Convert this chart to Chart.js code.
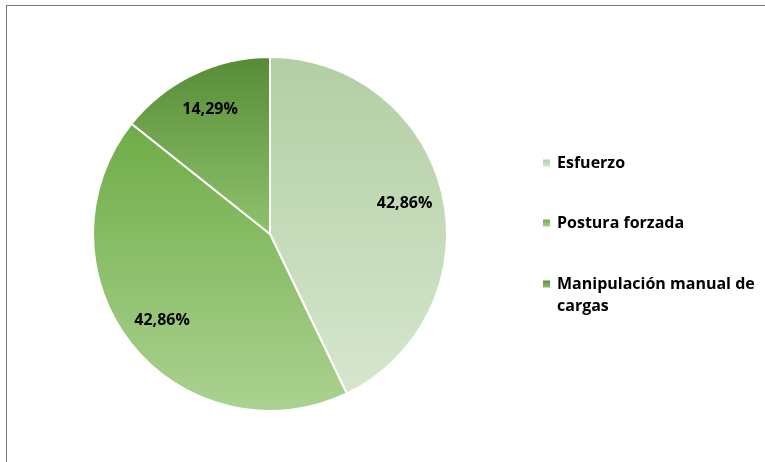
<!DOCTYPE html>
<html>
<head>
<meta charset="utf-8">
<script src="https://cdn.jsdelivr.net/npm/chart.js@4.4.1/dist/chart.umd.min.js"></script>
<style>
  html, body { margin: 0; padding: 0; background: #fff; }
  #wrap { position: relative; width: 765px; height: 462px; overflow: hidden; }
  #frame { position: absolute; left: 6px; top: 5px; width: 800px; height: 500px;
           border-left: 1px solid #7a7a7a; border-top: 1px solid #7a7a7a; }
  canvas { position: absolute; left: 0; top: 0; }
</style>
</head>
<body>
<div id="wrap">
  <div id="frame"></div>
  <canvas id="pieChart" width="765" height="462"></canvas>
</div>
<script>
// data
var categories = ["Esfuerzo", "Postura forzada", "Manipulación manual de cargas"];
var legendLines = [["Esfuerzo"], ["Postura forzada"], ["Manipulación manual de", "cargas"]];
var percentages = [42.86, 42.86, 14.29];
// gradient colours per slice: top, bottom
var topColors = ["#b2cea3", "#6fac46", "#578c36"];
var bottomColors = ["#d6e6ce", "#abd291", "#90c26e"];

var FONT = "bold 16px 'Open Sans', sans-serif";

// vertical extent of an arc, for its gradient
function arcYRange(arc) {
  var ys = [arc.y];
  var a0 = arc.startAngle, a1 = arc.endAngle, r = arc.outerRadius;
  ys.push(arc.y + r * Math.sin(a0), arc.y + r * Math.sin(a1));
  for (var k = -4; k <= 4; k++) {
    var a = Math.PI / 2 + k * Math.PI;
    if (a > a0 && a < a1) ys.push(arc.y + r * Math.sin(a));
  }
  return [Math.min.apply(null, ys), Math.max.apply(null, ys)];
}

// set a vertical gradient on each slice once the arcs are laid out
var sliceGradients = {
  id: "sliceGradients",
  beforeDatasetsDraw: function(chart) {
    var ctx = chart.ctx;
    chart.getDatasetMeta(0).data.forEach(function(arc, i) {
      var yr = arcYRange(arc);
      var g = ctx.createLinearGradient(0, yr[0], 0, yr[1]);
      g.addColorStop(0, topColors[i]);
      g.addColorStop(1, bottomColors[i]);
      arc.options.backgroundColor = g;
    });
  }
};

// percentage labels inside the slices
var sliceLabels = {
  id: "sliceLabels",
  afterDatasetsDraw: function(chart) {
    var ctx = chart.ctx;
    var meta = chart.getDatasetMeta(0);
    ctx.save();
    ctx.font = FONT;
    ctx.fillStyle = "#000";
    ctx.textAlign = "center";
    ctx.textBaseline = "middle";
    meta.data.forEach(function(arc, i) {
      var mid = (arc.startAngle + arc.endAngle) / 2;
      var d = arc.outerRadius * 0.78;
      var txt = percentages[i].toFixed(2).replace(".", ",") + "%";
      ctx.fillText(txt, arc.x + Math.cos(mid) * d, arc.y + Math.sin(mid) * d);
    });
    ctx.restore();
  }
};

// legend on the right, with wrapped last entry
var sideLegend = {
  id: "sideLegend",
  afterDraw: function(chart) {
    var ctx = chart.ctx;
    var rowsY = [163, 223, 284];
    ctx.save();
    ctx.font = FONT;
    ctx.textBaseline = "middle";
    ctx.textAlign = "left";
    legendLines.forEach(function(lines, i) {
      var y = rowsY[i];
      var g = ctx.createLinearGradient(0, y - 4, 0, y + 4);
      g.addColorStop(0, topColors[i]);
      g.addColorStop(1, bottomColors[i]);
      ctx.fillStyle = g;
      ctx.fillRect(543, y - 3.5, 7, 7);
      ctx.fillStyle = "#000";
      lines.forEach(function(line, j) {
        ctx.fillText(line, 557, y + j * 22);
      });
    });
    ctx.restore();
  }
};

new Chart(document.getElementById("pieChart"), {
  type: "pie",
  data: {
    labels: categories,
    datasets: [{
      data: percentages,
      backgroundColor: topColors,
      borderColor: "#ffffff",
      borderWidth: 2
    }]
  },
  options: {
    responsive: false,
    animation: false,
    layout: { padding: { top: 56, bottom: 50, left: 92, right: 317 } },
    plugins: {
      legend: { display: false },
      tooltip: { enabled: false }
    }
  },
  plugins: [sliceGradients, sliceLabels, sideLegend]
});
</script>
</body>
</html>
